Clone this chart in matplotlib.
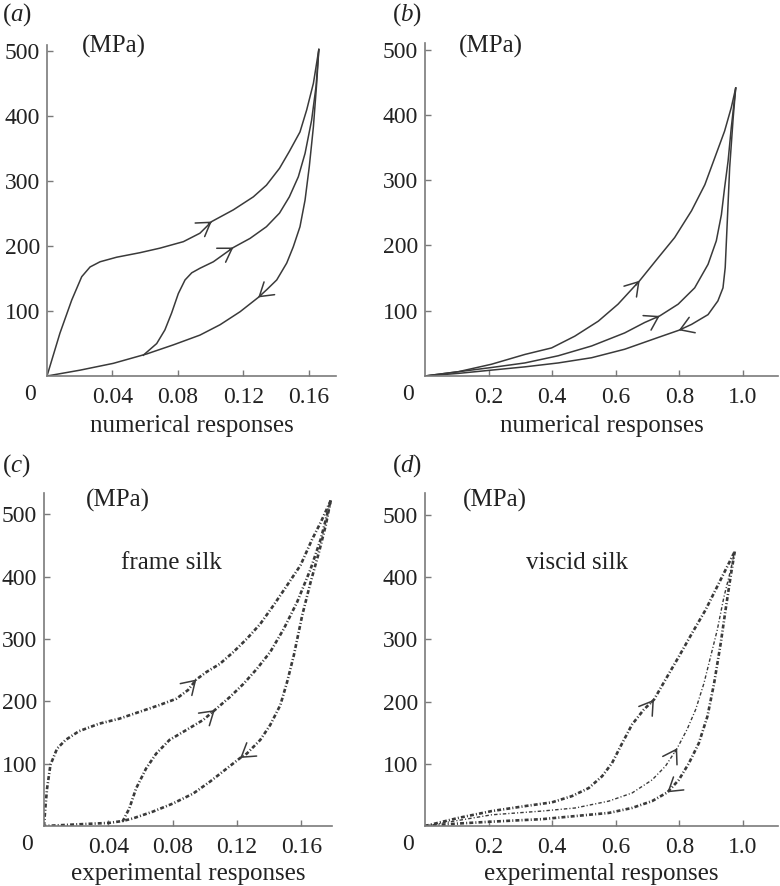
import numpy as np
import matplotlib
matplotlib.use("Agg")
import matplotlib.pyplot as plt

plt.rcParams['font.family'] = ['Liberation Serif', 'DejaVu Serif']
plt.rcParams['mathtext.fontset'] = 'custom'
plt.rcParams['mathtext.rm'] = 'Liberation Serif'
plt.rcParams['mathtext.it'] = 'Liberation Serif:italic'

# ---- (a) numerical, frame silk ----
a_up_x = [0, 0.0079, 0.0151, 0.0212, 0.0263, 0.0324, 0.0425, 0.0568, 0.069, 0.0833, 0.0934, 0.1006,
          0.1138, 0.126, 0.134, 0.142, 0.148, 0.1545, 0.1586, 0.1627, 0.166]
a_up_y = [0, 66, 117, 153, 168, 176, 183, 190, 197, 207, 220, 238,
          256, 276, 294, 320, 346, 376, 410, 451, 503]
a_mid_x = [0.0588, 0.067, 0.072, 0.0761, 0.0802, 0.0843, 0.0884, 0.0934, 0.1016, 0.1138,
           0.124, 0.134, 0.142, 0.148, 0.1535, 0.1576, 0.1616, 0.1643, 0.166]
a_mid_y = [32, 50, 71, 97, 127, 148, 159, 166, 176, 198,
           212, 230, 251, 276, 307, 343, 394, 446, 503]
a_dn_x = [0.166, 0.1647, 0.1627, 0.1602, 0.1576, 0.1545, 0.1504, 0.1464, 0.1403, 0.1342, 0.129,
          0.1179, 0.1057, 0.0934, 0.0772, 0.0609, 0.0405, 0.0202, 0]
a_dn_y = [503, 451, 384, 323, 271, 230, 199, 174, 148, 133, 121,
          99, 79, 63, 48, 34, 19.5, 9, 0]
a_arrows = [11, 9, 10]   # index of arrow tip in up / mid / down

# ---- (b) numerical, viscid silk ----
b_up_x = [0, 0.105, 0.209, 0.314, 0.398, 0.471, 0.545, 0.607, 0.675, 0.733, 0.785, 0.838,
          0.880, 0.911, 0.942, 0.963, 0.977]
b_up_y = [0, 6.6, 18, 33, 43, 61, 84, 110, 146, 181, 212, 253,
          293, 334, 375, 411, 441]
b_mid_x = [0, 0.209, 0.314, 0.419, 0.524, 0.628, 0.691, 0.738, 0.796, 0.848, 0.890, 0.916,
           0.932, 0.942, 0.953, 0.963, 0.977]
b_mid_y = [0, 13, 20, 31, 46, 66, 82, 92, 110, 135, 171, 207,
           247, 288, 329, 380, 441]
b_dn_x = [0.977, 0.969, 0.958, 0.951, 0.944, 0.937, 0.921, 0.890, 0.838, 0.798, 0.733,
          0.628, 0.524, 0.419, 0.314, 0.209, 0.105, 0]
b_dn_y = [441, 395, 319, 242, 166, 135, 115, 94, 79, 70, 59,
          41, 28, 20, 14, 9, 4, 0]
b_arrows = [8, 7, 9]

# ---- (c) experimental, frame silk ----
c_up_x = [0, 0.0008, 0.0019, 0.004, 0.0081, 0.0134, 0.0217, 0.0342, 0.0467, 0.0593, 0.0718,
          0.0822, 0.0895, 0.0947, 0.101, 0.1093, 0.1177, 0.126, 0.1344, 0.1427, 0.1511,
          0.1594, 0.1667, 0.172, 0.1782]
c_up_y = [0, 28, 60, 98, 124, 138, 152, 164, 172, 183, 194,
          204, 218, 235, 247, 260, 279, 300, 324, 354, 386,
          418, 460, 487, 522]
c_mid_x = [0.0488, 0.053, 0.0572, 0.0634, 0.0697, 0.078, 0.0885, 0.0989, 0.1062, 0.1156,
           0.124, 0.1323, 0.1406, 0.149, 0.1573, 0.1657, 0.172, 0.1782]
c_mid_y = [7, 28, 60, 92, 116, 138, 154, 170, 186, 207,
           228, 252, 279, 316, 359, 412, 460, 522]
c_dn_x = [0.1782, 0.1751, 0.1709, 0.1657, 0.1605, 0.1553, 0.1511, 0.1469, 0.1406, 0.1344,
          0.126, 0.1219, 0.1135, 0.1031, 0.0927, 0.0801, 0.0676, 0.0551, 0.0488, 0.0405,
          0.0238, 0]
c_dn_y = [522, 482, 439, 391, 338, 274, 231, 194, 162, 138,
          116, 109, 92, 71, 52, 36, 23, 12, 8, 5,
          3, 0]
c_arrows = [13, 8, 11]

# ---- (d) experimental, viscid silk ----
d_up_x = [0, 0.105, 0.21, 0.315, 0.399, 0.462, 0.515, 0.557, 0.588, 0.62, 0.651, 0.688,
          0.72, 0.756, 0.798, 0.84, 0.882, 0.924, 0.974]
d_up_y = [0, 13, 24, 32, 38, 48, 61, 80, 101, 133, 163, 187,
          203, 235, 272, 310, 347, 390, 441]
d_mid_x = [0, 0.21, 0.368, 0.473, 0.578, 0.651, 0.714, 0.756, 0.793, 0.824, 0.851, 0.877,
           0.898, 0.919, 0.94, 0.961, 0.974]
d_mid_y = [0, 18, 24, 29, 40, 53, 74, 96, 125, 155, 187, 229,
           272, 315, 368, 411, 441]
d_dn_x = [0.974, 0.961, 0.945, 0.93, 0.909, 0.888, 0.861, 0.83, 0.798, 0.762, 0.714,
          0.651, 0.578, 0.473, 0.368, 0.21, 0.105, 0]
d_dn_y = [441, 401, 347, 294, 229, 176, 133, 101, 74, 54, 40,
          29, 21, 16, 11, 7, 4, 0]
d_arrows = [12, 8, 9]

y_ticks = [100, 200, 300, 400, 500]
frame_xticks = [0.04, 0.08, 0.12, 0.16]
frame_xlabels = ['0.04', '0.08', '0.12', '0.16']
viscid_xticks = [0.2, 0.4, 0.6, 0.8, 1.0]
viscid_xlabels = ['0.2', '0.4', '0.6', '0.8', '1.0']

LINE = '#3a3a3a'
AXC = '#7a7a7a'
TXT = '#222222'
FS = 18
TFS = 17
DASH = (0, (1.5, 0.8, 0.4, 0.8))

fig = plt.figure(figsize=(7.8, 8.86), dpi=100)
W, H = 780.0, 886.0


def make_ax(l, r, top, bot):
    return fig.add_axes([l / W, 1 - bot / H, (r - l) / W, (bot - top) / H])


def style(ax, xmax, ymax, xt, xl, xlabel, label_top):
    ax.set_xlim(0, xmax)
    ax.set_ylim(0, ymax)
    for s in ['top', 'right']:
        ax.spines[s].set_visible(False)
    for s in ['left', 'bottom']:
        ax.spines[s].set_color(AXC)
        ax.spines[s].set_linewidth(1.2)
    ax.set_xticks(xt)
    ax.set_xticklabels(xl)
    ax.set_yticks(y_ticks)
    ax.set_yticklabels([str(v) for v in y_ticks])
    ax.tick_params(direction='in', length=4, width=1, color=AXC, labelsize=TFS,
                   labelcolor=TXT)
    ax.tick_params(axis='x', pad=8)
    ax.tick_params(axis='y', pad=5)
    ax.set_xlabel(xlabel, fontsize=FS, color=TXT)
    ax.xaxis.set_label_coords(0.5, label_top)
    ax.annotate('0', xy=(0, 0), xycoords='data', xytext=(-17, -19),
                textcoords='offset pixels', ha='center', va='center',
                fontsize=TFS, color=TXT)


def draw(ax, curves, arrows, styles):
    for (x, y), idx, st in zip(curves, arrows, styles):
        x = np.asarray(x, dtype=float)
        y = np.asarray(y, dtype=float)
        ax.plot(x, y, color=LINE, solid_joinstyle='round', **st)
        tip = (x[idx], y[idx])
        dx = x[idx + 1] - x[idx - 1]
        dy = y[idx + 1] - y[idx - 1]
        tail = (x[idx] - 0.1 * dx, y[idx] - 0.1 * dy)
        ax.annotate('', xy=tip, xytext=tail,
                    arrowprops=dict(arrowstyle='->,head_length=0.55,head_width=0.35',
                                    color=LINE, lw=1.1, shrinkA=0, shrinkB=0,
                                    mutation_scale=17))


solid = dict(lw=1.1)
dd = dict(lw=1.9, linestyle=DASH)
dthin = dict(lw=1.0, linestyle=(0, (2.5, 1.5, 0.8, 1.5)))

ax_a = make_ax(47, 336, 45, 376)
style(ax_a, 0.1765, 510, frame_xticks, frame_xlabels, 'numerical responses', -0.118)
draw(ax_a, [(a_up_x, a_up_y), (a_mid_x, a_mid_y), (a_dn_x, a_dn_y)], a_arrows, [solid] * 3)

ax_b = make_ax(425, 778, 43, 376)
style(ax_b, 1.11, 510, viscid_xticks, viscid_xlabels, 'numerical responses', -0.118)
draw(ax_b, [(b_up_x, b_up_y), (b_mid_x, b_mid_y), (b_dn_x, b_dn_y)], b_arrows, [solid] * 3)

ax_c = make_ax(44, 332, 493, 826)
style(ax_c, 0.179, 534, frame_xticks, frame_xlabels, 'experimental responses', -0.112)
draw(ax_c, [(c_up_x, c_up_y), (c_mid_x, c_mid_y), (c_dn_x, c_dn_y)], c_arrows, [dd] * 3)

ax_d = make_ax(425, 778, 493, 826)
style(ax_d, 1.11, 535, viscid_xticks, viscid_xlabels, 'experimental responses', -0.112)
draw(ax_d, [(d_up_x, d_up_y), (d_mid_x, d_mid_y), (d_dn_x, d_dn_y)], d_arrows, [dd, dthin, dd])

# units and annotations
for ax, xf, yf in [(ax_a, 0.121, 0.995), (ax_b, 0.096, 0.99), (ax_c, 0.146, 0.979), (ax_d, 0.108, 0.979)]:
    ax.text(xf, yf, '(MPa)', transform=ax.transAxes, ha='left', va='center',
            fontsize=FS, color=TXT, clip_on=False)
ax_c.text(0.444, 0.79, 'frame silk', transform=ax_c.transAxes, ha='center', va='center',
          fontsize=FS, color=TXT)
ax_d.text(0.43, 0.79, 'viscid silk', transform=ax_d.transAxes, ha='center', va='center',
          fontsize=FS, color=TXT)

for lab, px, py in [('a', 2, 15), ('b', 392, 15), ('c', 2, 466), ('d', 392, 466)]:
    fig.text(px / W, 1 - py / H, '($\\mathit{%s}$)' % lab, ha='left', va='center',
             fontsize=FS, color=TXT)

fig.savefig('out.png', dpi=100)
